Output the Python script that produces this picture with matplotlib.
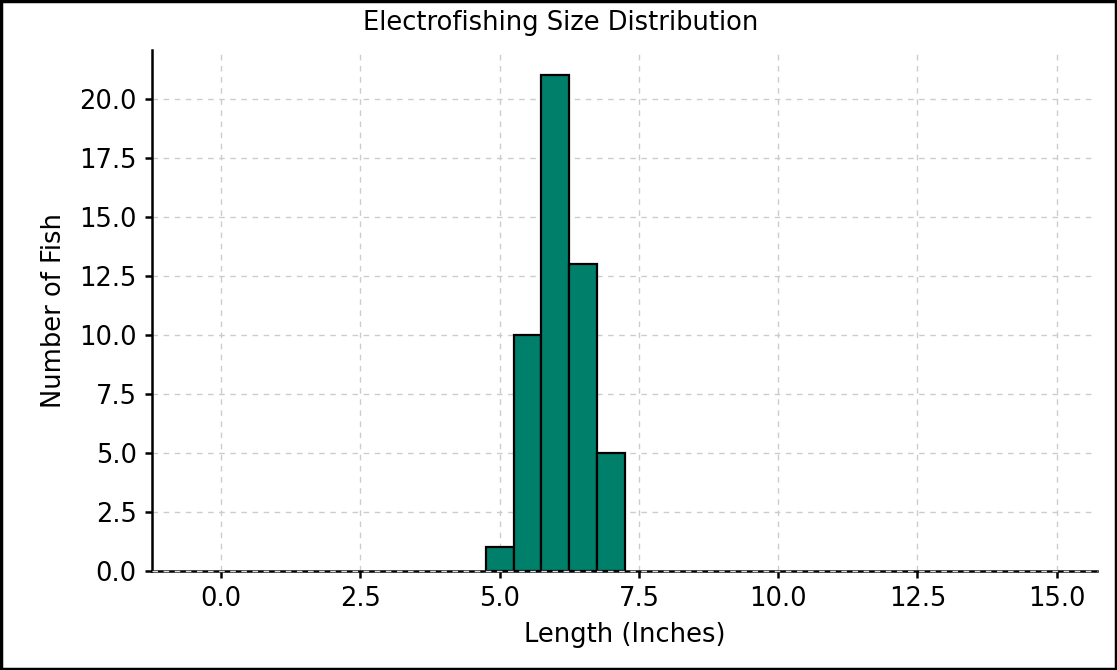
import matplotlib
matplotlib.use("Agg")
import matplotlib.pyplot as plt
from matplotlib.patches import Rectangle

bin_centers = [5.0, 5.5, 6.0, 6.5, 7.0]
counts = [1, 10, 21, 13, 5]
bin_width = 0.5
x_ticks = [0.0, 2.5, 5.0, 7.5, 10.0, 12.5, 15.0]
y_ticks = [0.0, 2.5, 5.0, 7.5, 10.0, 12.5, 15.0, 17.5, 20.0]

plt.rcParams['font.family'] = ['DejaVu Sans']
fig = plt.figure(figsize=(11.17, 6.70), dpi=100)
ax = fig.add_axes([0.136, 0.148, 0.846, 0.777])

fs = 18.5
ax.bar(bin_centers, counts, width=bin_width, color='#00806a', edgecolor='black', linewidth=1.6, zorder=2)
ax.set_xlim(-1.24, 15.72)
ax.set_ylim(0, 22.05)
ax.set_xticks(x_ticks)
ax.set_xticklabels([f"{v:.1f}" for v in x_ticks])
ax.set_yticks(y_ticks)
ax.set_yticklabels([f"{v:.1f}" for v in y_ticks])
ax.grid(True, linestyle=(0, (4, 4)), color='#cccccc', linewidth=1, zorder=1)
ax.set_axisbelow(True)
ax.axhline(0, color='#dddddd', linestyle=(0, (4, 4)), linewidth=1, zorder=4, clip_on=False)
for s in ['top', 'right']:
    ax.spines[s].set_visible(False)
for s in ['left', 'bottom']:
    ax.spines[s].set_linewidth(1.8)
ax.tick_params(axis='both', labelsize=fs, width=1.8, length=5, direction='out', pad=6)
ax.set_xlabel('Length (Inches)', fontsize=fs, labelpad=7)
ax.set_ylabel('Number of Fish', fontsize=fs, labelpad=9)
fig.text(0.502, 0.966, 'Electrofishing Size Distribution', ha='center', va='center', fontsize=fs)

fig.patches.append(Rectangle((0.001, 0.001), 0.998, 0.997, transform=fig.transFigure,
                             fill=False, edgecolor='black', linewidth=2.5))
fig.savefig('out.png', dpi=100)
